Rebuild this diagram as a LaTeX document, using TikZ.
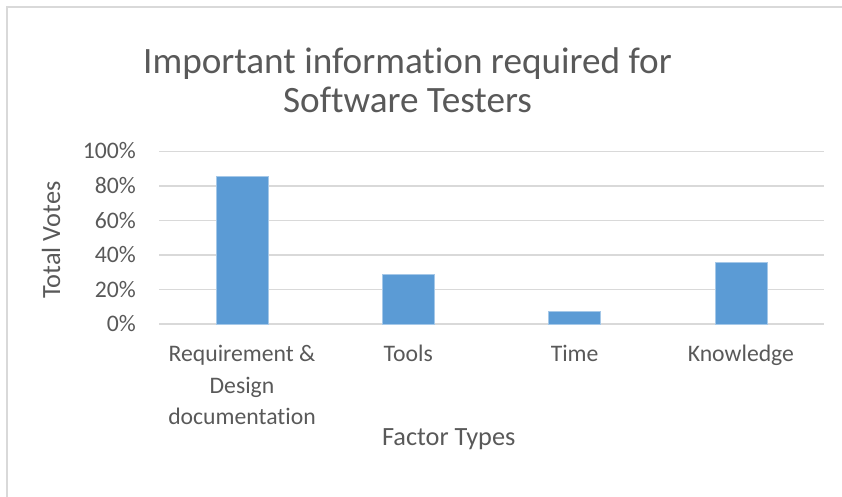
\documentclass[tikz,border=0pt]{standalone}
\usepackage{fontspec}
\setmainfont{Carlito}[Ligatures=NoCommon]
\usetikzlibrary{positioning}

\definecolor{gridgray}{HTML}{D9D9D9}
\definecolor{txtgray}{HTML}{595959}
\definecolor{barblue}{HTML}{5B9BD5}

\tikzset{
	lbl/.style={text=txtgray, inner sep=0pt, anchor=base, font=\fontsize{23.7}{31.5}\selectfont},
	axtitle/.style={lbl, font=\fontsize{26.3}{30}\selectfont},
	bar/.style={fill=barblue, draw=barblue!55!white, line width=0.8pt}
}

\begin{document}
\begin{tikzpicture}[x=1pt, y=-1pt]

\useasboundingbox (0,0) rectangle (842,497);
\draw[gridgray, line width=1.5pt] (7,497)--(7,7)--(842,7);

% title
\node (title) at (407.5,74) [lbl, font=\fontsize{37.2}{40}\selectfont] {Important information required for};
\node (title2) at (407.5,113) [lbl, font=\fontsize{37.2}{40}\selectfont] {Software Testers};

% grid and ticks
\foreach \p in {0,20,...,100}{
	\draw[gridgray, line width=1.5pt] (159,{324-1.725*\p})--(824,{324-1.725*\p});
	\node (tick\p) at (136,{331.5-1.725*\p}) [lbl, anchor=base east] {\p\%};
}

% bars
\foreach \x/\v in {242/85.7, 408.3/28.6, 574.6/7.1, 740.9/35.7}{
	\filldraw[bar] ({\x-26},324) rectangle ({\x+26},{324-1.725*\v});
}

\node (req) at (242,424.7) [lbl, align=center] {Requirement \&\\Design\\documentation};
\node (tools) at (408.3,361.7) [lbl] {Tools};
\node (time) at (574.6,361.7) [lbl] {Time};
\node (know) at (740.9,361.7) [lbl] {Knowledge};

\node (xtitle) at (448.7,445) [axtitle] {Factor Types};
\node (ytitle) at (60,240) [axtitle, rotate=90] {Total Votes};

\end{tikzpicture}
\end{document}
